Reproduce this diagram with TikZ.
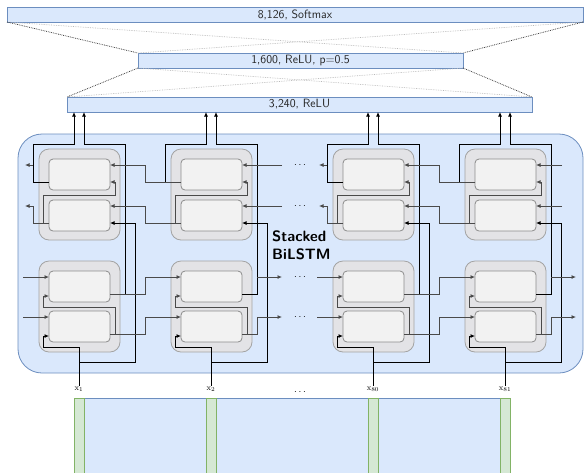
\documentclass[tikz,border=0pt]{standalone}
\usetikzlibrary{arrows.meta,calc}
\definecolor{bfill}{HTML}{DAE8FC}
\definecolor{bstroke}{HTML}{6C8EBF}
\definecolor{gfill}{HTML}{D5E8D4}
\definecolor{gstroke}{HTML}{82B366}
\definecolor{boxfill}{HTML}{E3E3E6}
\definecolor{boxstroke}{HTML}{A3A3A3}
\definecolor{cellfill}{HTML}{F2F2F2}
\definecolor{cellstroke}{HTML}{8C8C8C}
\definecolor{wire}{HTML}{4A4A4A}
\begin{document}
\begin{tikzpicture}[x=1pt,y=-1pt,
  bar/.style={draw=bstroke,fill=bfill,line width=0.9pt,anchor=north west,inner sep=0pt,outer sep=0pt,minimum height=15pt,font=\sffamily\fontsize{12}{13}\selectfont,text=black!85},
  gbox/.style={draw=boxstroke,fill=boxfill,line width=0.8pt,rounded corners=10pt,anchor=north west,minimum width=81pt,minimum height=91pt,inner sep=0pt,outer sep=0pt},
  cell/.style={draw=cellstroke,fill=cellfill,line width=0.8pt,rounded corners=4pt,anchor=north west,minimum width=61pt,minimum height=31pt,inner sep=0pt,outer sep=0pt},
  wk/.style={draw=black,line width=0.85pt},
  wg/.style={draw=wire,line width=0.85pt},
  arr/.style={-{Latex[length=4.5pt,width=4pt]}},
  darkdot/.style={draw=black!80,densely dotted,line width=0.75pt},
  lightdot/.style={draw=black!28,densely dotted,line width=0.7pt},
  xlab/.style={font=\fontsize{8.5}{9}\selectfont,inner sep=1pt},
  dotsl/.style={font=\fontsize{10}{11}\selectfont,inner sep=0pt,anchor=base},
  emb/.style={draw=bstroke,fill=bfill,line width=0.8pt,anchor=north west,inner sep=0pt,outer sep=0pt,minimum height=80pt},
  strip/.style={draw=gstroke,fill=gfill,line width=0.8pt,anchor=north west,inner sep=0pt,outer sep=0pt,minimum width=10pt,minimum height=80pt}
]
\useasboundingbox (0,0) rectangle (585,472);

% dense layers
\node[bar,minimum width=576pt] (bar1) at (7,7) {8,126, Softmax};
\node[bar,minimum width=325pt] (bar2) at (138,53) {1,600, ReLU, p=0.5};
\node[bar,minimum width=465pt] (bar3) at (67,97) {3,240, ReLU};
\draw[lightdot] (bar1.south west) -- (bar2.north east);
\draw[lightdot] (bar1.south east) -- (bar2.north west);
\draw[darkdot] (bar1.south west) -- (bar2.north west);
\draw[darkdot] (bar1.south east) -- (bar2.north east);
\draw[lightdot] (bar2.south west) -- (bar3.north east);
\draw[lightdot] (bar2.south east) -- (bar3.north west);
\draw[darkdot] (bar2.south west) -- (bar3.north west);
\draw[darkdot] (bar2.south east) -- (bar3.north east);

% stacked BiLSTM container
\node[draw=bstroke,fill=bfill,line width=0.8pt,rounded corners=24pt,anchor=north west,minimum width=565pt,minimum height=239pt,inner sep=0pt,outer sep=0pt] (stack) at (18,134) {};
\node[anchor=north west,align=left,inner sep=0pt,font=\sffamily\bfseries\fontsize{15}{18}\selectfont] (lbl) at (272,231) {Stacked\\BiLSTM};

% embedding input
\node[emb,minimum width=436pt] (emb) at (74,398) {};

% columns
\foreach \g/\i/\n in {39/1/1,171/2/2,333/3/80,465/4/81} {
  \node[gbox] (Gb\i) at (\g,149) {};
  \node[gbox] (Ga\i) at (\g,261) {};
  \node[cell] (C\i) at ({\g+10},159) {};
  \node[cell] (D\i) at ({\g+10},200) {};
  \node[cell] (A\i) at ({\g+10},271) {};
  \node[cell] (B\i) at ({\g+10},311) {};
  \node[strip] (E\i) at ({\g+35},398) {};
  \node[xlab] (X\i) at ({\g+40},389) {$\mathrm{x}_{\n}$};
  \coordinate (TC\i) at ({\g+35},112);
  \coordinate (TA\i) at ({\g+45},112);
  \coordinate (J\i) at ({\g+40},362);
  % outputs to dense layer
  \draw[wk,arr] ($(C\i.north west)+(0,23)$) -| ({\g-6},144) -| (TC\i);
  \draw[wk,arr] ($(A\i.north east)+(0,23)$) -| ({\g+86},144) -| (TA\i);
  % stacking inside each direction
  \draw[wg,arr] ($(D\i.north west)+(0,23)$) -| ({\g+4},195) -| ({\g+76},182) -- ($(C\i.north east)+(0,23)$);
  \draw[wg,arr] ($(B\i.north east)+(0,23)$) -| ({\g+76},307) -| ({\g+4},296) -- ($(A\i.north west)+(0,25)$);
  % input x
  \draw[wk,arr] (X\i.north) -- ({\g+40},347) -| ({\g+4},336) -- ($(B\i.north west)+(0,25)$);
  \draw[wk,arr] (J\i) -| ({\g+96},223) -- ($(D\i.north east)+(0,23)$);
}

% columns followed by a neighbour on the right (1 -> 2, 3 -> 4)
\foreach \g/\i/\k in {39/1/2,333/3/4} {
  \draw[wg,arr] ($(A\i.north east)+(0,23)$) -| ({\g+106},277) -- ($(A\k.north west)+(0,6)$);
  \draw[wg,arr] ($(B\i.north east)+(0,23)$) -| ({\g+106},317) -- ($(B\k.north west)+(0,6)$);
  \coordinate (LA\i) at ({\g-16},277);
  \coordinate (LB\i) at ({\g-16},317);
  \draw[wg,arr] (LA\i) -- ($(A\i.north west)+(0,6)$);
  \draw[wg,arr] (LB\i) -- ($(B\i.north west)+(0,6)$);
  \coordinate (OC\i) at ({\g-6},165);
  \coordinate (PC\i) at ({\g-14},165);
  \coordinate (PD\i) at ({\g-14},206);
  \draw[wg,arr] (OC\i) -- (PC\i);
  \draw[wg,arr] ($(D\i.north west)+(0,23)$) -| ({\g-6},206) -- (PD\i);
}

% columns with a neighbour on the left (2 -> 1, 4 -> 3)
\foreach \g/\gp/\i/\j/\r in {171/39/2/1/111,465/333/4/3/97} {
  \draw[wg,arr] ($(C\i.north west)+(0,23)$) -| ({\gp+106},165) -- ($(C\j.north east)+(0,6)$);
  \draw[wg,arr] ($(D\i.north west)+(0,23)$) -| ({\gp+106},206) -- ($(D\j.north east)+(0,6)$);
  \coordinate (RC\i) at ({\g+\r},165);
  \coordinate (RD\i) at ({\g+\r},206);
  \draw[wg,arr] (RC\i) -- ($(C\i.north east)+(0,6)$);
  \draw[wg,arr] (RD\i) -- ($(D\i.north east)+(0,6)$);
  \coordinate (VA\i) at ({\g+86},277);
  \coordinate (QA\i) at ({\g+111},277);
  \coordinate (QB\i) at ({\g+111},317);
  \draw[wg,arr] (VA\i) -- (QA\i);
  \draw[wg,arr] ($(B\i.north east)+(0,23)$) -| ({\g+86},317) -- (QB\i);
}

% ellipses
\node[dotsl] (dt1) at (300,167.5) {$\cdots$};
\node[dotsl] (dt2) at (300,208.5) {$\cdots$};
\node[dotsl] (dt3) at (300,279.5) {$\cdots$};
\node[dotsl] (dt4) at (300,319.5) {$\cdots$};
\node[dotsl] (dt5) at (300,394) {$\cdots$};
\end{tikzpicture}
\end{document}
